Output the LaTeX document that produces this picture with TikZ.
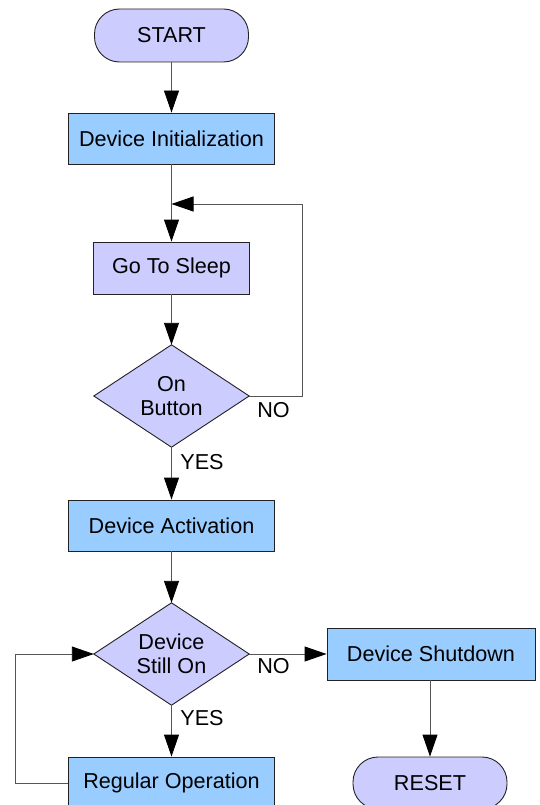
\documentclass[tikz,border=0pt]{standalone}
\usepackage{fontspec}
\setmainfont{Liberation Sans}
\usetikzlibrary{arrows.meta,backgrounds}
\definecolor{lav}{HTML}{CCCCFF}
\definecolor{sky}{HTML}{99CCFF}
\definecolor{edgec}{HTML}{222222}
\definecolor{linec}{HTML}{555555}
\tikzset{
  base/.style={draw=edgec,line width=0.9pt,inner sep=0pt,font=\fontsize{21.6}{24.5}\selectfont,align=center},
  term/.style={base,fill=lav,rounded corners=25pt,minimum width=154pt,minimum height=53pt},
  procbox/.style={base,fill=sky,minimum width=206pt,minimum height=51pt},
  sleepbox/.style={base,fill=lav,minimum width=156pt,minimum height=52pt},
  decbox/.style={inner sep=0pt,font=\fontsize{21.6}{24.5}\selectfont,align=center,minimum width=155pt,minimum height=102pt},
  decfill/.style={draw=edgec,line width=0.9pt,fill=lav,line join=miter},
  conn/.style={draw=linec,line width=0.9pt,-{Triangle[length=22pt,width=15pt,color=black]}},
  lbl/.style={font=\fontsize{21.6}{24.5}\selectfont,inner sep=0pt}
}
\begin{document}
\begin{tikzpicture}[x=1pt,y=-1pt]
\useasboundingbox (0,0) rectangle (540,805);
\node[term] (start) at (171.5,35.5) {START};
\node[procbox] (init) at (171.5,138.5) {Device Initialization};
\node[sleepbox] (sleep) at (171.5,268) {Go To Sleep};
\node[decbox] (onbtn) at (171.5,396) {On\\Button};
\node[procbox] (act) at (171.5,525.5) {Device Activation};
\node[decbox] (still) at (171.5,654) {Device\\Still On};
\node[procbox,minimum width=208pt,minimum height=52pt] (shut) at (431,654) {Device Shutdown};
\node[term,minimum height=52pt] (reset) at (430,783) {RESET};
\node[procbox,minimum height=52pt] (regop) at (171.5,783) {Regular Operation};
\begin{scope}[on background layer]
\path[decfill] (onbtn.north) -- (onbtn.east) -- (onbtn.south) -- (onbtn.west) -- cycle;
\path[decfill] (still.north) -- (still.east) -- (still.south) -- (still.west) -- cycle;
\end{scope}
\coordinate (loopin) at (171.5,204);
\draw[conn] (start.south) -- (init.north);
\draw[conn] (init.south) -- (sleep.north);
\draw[conn] (sleep.south) -- (onbtn.north);
\draw[conn] (onbtn.east) -- ++(53,0) |- (loopin);
\draw[conn] (onbtn.south) -- (act.north);
\draw[conn] (act.south) -- (still.north);
\draw[conn] (still.east) -- (shut.west);
\draw[conn] (still.south) -- (regop.north);
\draw[conn] (regop.west) -- ++(-52.5,0) |- (still.west);
\draw[conn] (shut.south -| reset.north) -- (reset.north);
\node[lbl] (no1) at (273.5,410) {NO};
\node[lbl] (yes1) at (202,462) {YES};
\node[lbl] (no2) at (273.5,666) {NO};
\node[lbl] (yes2) at (202,718) {YES};
\end{tikzpicture}
\end{document}
